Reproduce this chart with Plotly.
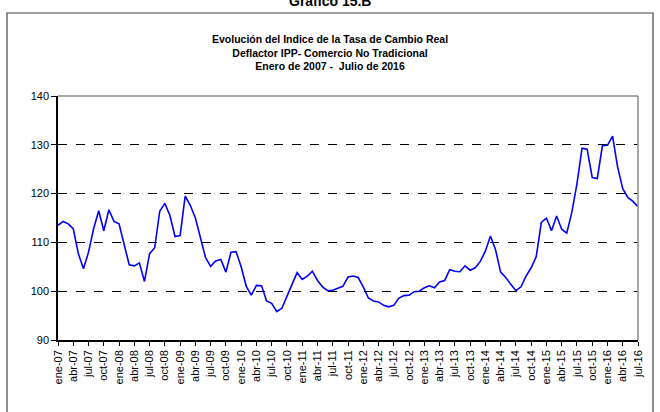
import plotly.graph_objects as go

months = ["ene", "feb", "mar", "abr", "may", "jun", "jul", "ago", "sep", "oct", "nov", "dic"]
periods = [f"{months[m]}-{y:02d}" for y in range(7, 17) for m in range(12)][:115]

values = [
    113.5, 114.3, 113.8, 112.8, 107.7, 104.6, 108.0, 112.8, 116.5, 112.4, 116.7, 114.3,
    113.8, 109.4, 105.4, 105.2, 105.8, 102.0, 107.7, 108.9, 116.4, 118.0, 115.5, 111.2,
    111.4, 119.5, 117.6, 115.0, 111.0, 106.9, 105.1, 106.2, 106.5, 103.9, 108.0, 108.1,
    105.0, 101.0, 99.2, 101.2, 101.1, 98.0, 97.5, 95.8, 96.5, 98.8, 101.4, 103.8,
    102.4, 103.1, 104.1, 102.2, 100.9, 100.1, 100.2, 100.6, 101.0, 102.9, 103.1, 102.8,
    100.9, 98.6, 98.0, 97.8, 97.1, 96.8, 97.1, 98.6, 99.1, 99.2, 99.9, 100.0,
    100.7, 101.1, 100.7, 101.9, 102.2, 104.4, 104.1, 104.0, 105.2, 104.3, 104.8, 106.1,
    108.2, 111.3, 108.5, 103.9, 102.8, 101.4, 100.1, 100.9, 103.1, 104.8, 107.1, 114.1,
    115.0, 112.4, 115.4, 112.7, 111.9, 116.2, 122.0, 129.3, 129.1, 123.3, 123.1, 129.8,
    129.9, 131.8, 125.4, 121.0, 119.2, 118.4, 117.3,
]

title_lines = [
    "Evolución del Indice de la Tasa de Cambio Real",
    "Deflactor IPP- Comercio No Tradicional",
    "Enero de 2007 -  Julio de 2016",
]
y_ticks = [90, 100, 110, 120, 130, 140]

idx = list(range(len(values)))
tick_idx = idx[::3]
tick_txt = [periods[i] for i in tick_idx]

font = "Liberation Sans, Arial, sans-serif"

# plot area in pixels: x 58..638, y 96..340
PL, PR, PT, PB = 58, 638, 96, 340
W, H = PR - PL, PB - PT


def px_x(x):
    return (x - PL) / W


def px_y(y):
    return (PB - y) / H


fig = go.Figure()
fig.add_trace(go.Scatter(x=idx, y=values, mode="lines",
                         line=dict(color="#0000FF", width=1.6),
                         hoverinfo="skip", showlegend=False))

fig.update_layout(
    width=660, height=412,
    margin=dict(l=PL, r=660 - PR, t=PT, b=412 - PB, autoexpand=False),
    paper_bgcolor="white", plot_bgcolor="white",
    font=dict(family=font, size=11, color="black"),
    showlegend=False,
    xaxis=dict(
        range=[0, len(values) - 1], tickmode="array", automargin=False,
        tickvals=tick_idx, ticktext=tick_txt, tickangle=-90,
        ticks="outside", ticklen=4, tickcolor="black", tickwidth=1,
        showline=True, linecolor="black", linewidth=1.5,
        showgrid=False, zeroline=False,
        tickfont=dict(family=font, size=11, color="black"),
    ),
    yaxis=dict(
        range=[90, 140], tickmode="array", tickvals=y_ticks, automargin=False,
        ticks="outside", ticklen=5, tickcolor="black",
        showline=True, linecolor="black", linewidth=1.5,
        showgrid=True, gridcolor="black", griddash="dash", gridwidth=1,
        zeroline=False,
        tickfont=dict(family=font, size=11, color="black"),
    ),
    shapes=[
        dict(type="line", xref="paper", yref="paper", x0=0, x1=1, y0=1, y1=1,
             line=dict(color="#8c8c8c", width=1.5)),
        dict(type="line", xref="paper", yref="paper", x0=1, x1=1, y0=0, y1=1,
             line=dict(color="#8c8c8c", width=1.5)),
        dict(type="rect", xref="paper", yref="paper",
             x0=px_x(7), x1=px_x(653), y0=px_y(430), y1=px_y(13),
             line=dict(color="#444444", width=1.2), layer="below"),
    ],
    annotations=[
        dict(text="<b>" + "<br>".join(title_lines) + "</b>",
             xref="paper", yref="paper", x=px_x(330), y=px_y(31),
             xanchor="center", yanchor="top", showarrow=False,
             font=dict(family=font, size=10.5, color="black"), align="center"),
        dict(text="<b>Gráfico 15.B</b>", xref="paper", yref="paper",
             x=px_x(330), y=px_y(1), xanchor="center", yanchor="middle",
             showarrow=False, font=dict(family=font, size=14, color="black")),
    ],
)

fig.write_html("out.html", config={"displayModeBar": False},
               post_script="document.body.style.margin='0';document.body.style.overflow='hidden';")
